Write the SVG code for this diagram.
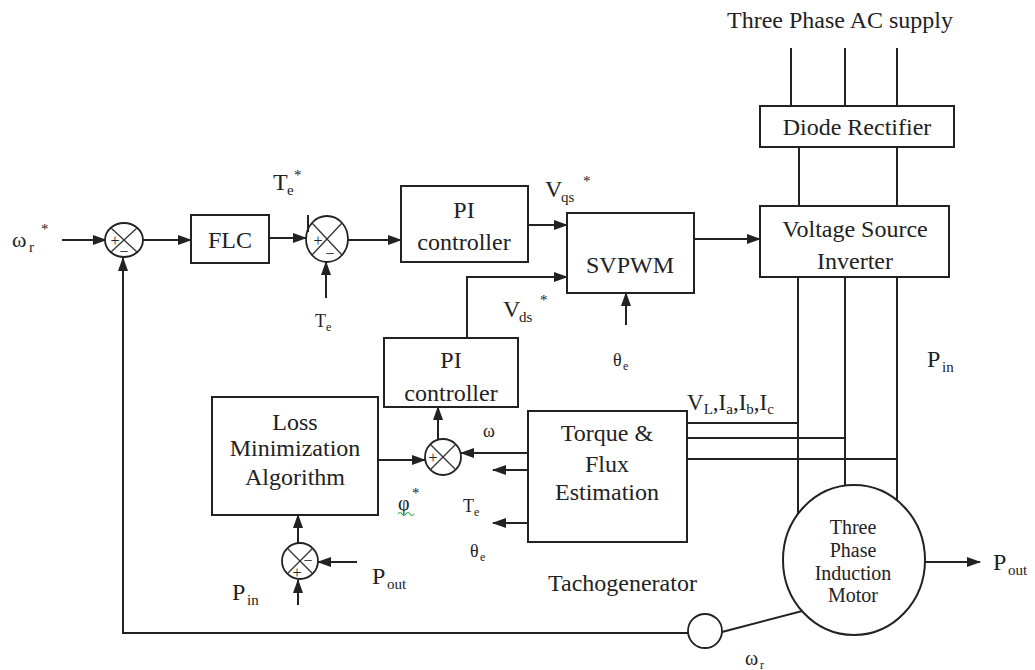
<svg xmlns="http://www.w3.org/2000/svg" width="1035" height="670" viewBox="0 0 1035 670">
<style>
.ln{stroke:#222;stroke-width:2;fill:none}
.ar{stroke:#222;stroke-width:2;fill:none;marker-end:url(#ah)}
.box{fill:#fff;stroke:#222;stroke-width:2}
.sj{fill:#fff;stroke:#222;stroke-width:1.8}
.x{stroke:#333;stroke-width:1.3}
text{font-family:"Liberation Serif","Times New Roman",serif;fill:#222}
.b{font-size:24px;text-anchor:middle}
.m{font-size:20px;text-anchor:middle}
.l{font-size:24px}
.s{font-size:15px}
.sm{font-size:18px}
.ss{font-size:12px}
.sg{font-size:16px;text-anchor:middle}
</style>
<defs>
<marker id="ah" markerUnits="userSpaceOnUse" markerWidth="14" markerHeight="10" refX="13" refY="5" orient="auto">
<path d="M0,0 L14,5 L0,10 Z" fill="#222"/>
</marker>
</defs>
<rect width="1035" height="670" fill="#fff"/>

<g id="connectors">
<line class="ar" x1="62" y1="240" x2="106" y2="240"/>
<line class="ar" x1="143" y1="240" x2="191" y2="240"/>
<line class="ar" x1="269" y1="238" x2="306" y2="238"/>
<line class="ar" x1="326" y1="298" x2="326" y2="262"/>
<line class="ar" x1="348" y1="240" x2="401" y2="240"/>
<line class="ar" x1="528" y1="225" x2="567" y2="225"/>
<polyline class="ar" points="467,338 467,277 567,277"/>
<line class="ar" x1="626" y1="325" x2="626" y2="293"/>
<line class="ar" x1="694" y1="239" x2="760" y2="239"/>
<line class="ln" x1="791" y1="48" x2="791" y2="106"/>
<line class="ln" x1="845" y1="48" x2="845" y2="106"/>
<line class="ln" x1="897" y1="48" x2="897" y2="106"/>
<line class="ln" x1="799" y1="147" x2="799" y2="206"/>
<line class="ln" x1="897" y1="147" x2="897" y2="206"/>
<line class="ln" x1="798" y1="277" x2="798" y2="514"/>
<line class="ln" x1="845" y1="277" x2="845" y2="485"/>
<line class="ln" x1="897" y1="277" x2="897" y2="500"/>
<line class="ln" x1="687" y1="423" x2="798" y2="423"/>
<line class="ln" x1="687" y1="438" x2="845" y2="438"/>
<line class="ln" x1="687" y1="459" x2="897" y2="459"/>
<line class="ar" x1="528" y1="453" x2="461" y2="453"/>
<line class="ar" x1="528" y1="470" x2="493" y2="470"/>
<line class="ar" x1="528" y1="523" x2="493" y2="523"/>
<line class="ar" x1="438" y1="440" x2="438" y2="407"/>
<line class="ar" x1="378" y1="460" x2="425" y2="460"/>
<line class="ar" x1="298" y1="543" x2="298" y2="515"/>
<line class="ar" x1="298" y1="605" x2="298" y2="580"/>
<line class="ar" x1="357" y1="562" x2="318" y2="562"/>
<line class="ar" x1="925" y1="562" x2="980" y2="562"/>
<line class="ln" x1="722" y1="632" x2="833" y2="603"/>
<polyline class="ar" points="688,633 123,633 123,258"/>
</g>

<g id="sum1">
<ellipse class="sj" cx="124" cy="240" rx="19" ry="17"/>
<line class="x" x1="111" y1="228" x2="137" y2="252"/>
<line class="x" x1="137" y1="228" x2="111" y2="252"/>
<text class="sg" x="115" y="246">+</text>
<text class="sg" x="124" y="257">−</text>
</g>

<g id="sum2">
<ellipse class="sj" cx="327" cy="239" rx="21" ry="23"/>
<line class="x" x1="312" y1="223" x2="342" y2="255"/>
<line class="x" x1="342" y1="223" x2="312" y2="255"/>
<line class="ln" x1="308" y1="215" x2="308" y2="232"/>
<text class="sg" x="318" y="246">+</text>
<text class="sg" x="330" y="259">−</text>
</g>

<g id="sum3">
<circle class="sj" cx="443" cy="457" r="18"/>
<line class="x" x1="430" y1="444" x2="456" y2="470"/>
<line class="x" x1="456" y1="444" x2="430" y2="470"/>
<text class="sg" x="433" y="463">+</text>
</g>

<g id="sum4">
<circle class="sj" cx="300" cy="561" r="18"/>
<line class="x" x1="287" y1="548" x2="313" y2="574"/>
<line class="x" x1="313" y1="548" x2="287" y2="574"/>
<text class="sg" x="308" y="566">−</text>
<text class="sg" x="297" y="578">+</text>
</g>

<g id="flc">
<rect class="box" x="191" y="215" width="78" height="48"/>
<text class="b" x="230" y="248">FLC</text>
</g>

<g id="pi1">
<rect class="box" x="401" y="186" width="127" height="76"/>
<text class="b" x="464" y="218">PI</text>
<text class="b" x="464" y="250">controller</text>
</g>

<g id="svpwm">
<rect class="box" x="567" y="213" width="127" height="80"/>
<text class="b" x="630" y="273">SVPWM</text>
</g>

<g id="rectifier">
<rect class="box" x="760" y="106" width="194" height="41"/>
<text class="b" x="857" y="135">Diode Rectifier</text>
</g>

<g id="vsi">
<rect class="box" x="760" y="206" width="189" height="71"/>
<text class="b" x="855" y="237">Voltage Source</text>
<text class="b" x="855" y="269">Inverter</text>
</g>

<g id="pi2">
<rect class="box" x="384" y="338" width="134" height="69"/>
<text class="b" x="451" y="368">PI</text>
<text class="b" x="451" y="401">controller</text>
</g>

<g id="lma">
<rect class="box" x="212" y="397" width="166" height="118"/>
<text class="b" x="295" y="430">Loss</text>
<text class="b" x="295" y="456">Minimization</text>
<text class="b" x="295" y="485">Algorithm</text>
</g>

<g id="tfe">
<rect class="box" x="528" y="411" width="159" height="131"/>
<text class="b" x="607" y="441">Torque &amp;</text>
<text class="b" x="607" y="472">Flux</text>
<text class="b" x="607" y="500">Estimation</text>
</g>

<g id="motor">
<ellipse class="box" cx="854" cy="560" rx="71" ry="75"/>
<text class="m" x="853" y="534">Three</text>
<text class="m" x="853" y="557">Phase</text>
<text class="m" x="853" y="580">Induction</text>
<text class="m" x="853" y="602">Motor</text>
</g>

<g id="tacho">
<circle class="sj" cx="705" cy="631" r="17"/>
</g>

<g id="labels">
<text class="l" x="727" y="28">Three Phase AC supply</text>
<text class="l" x="548" y="591">Tachogenerator</text>
<text x="12" y="247" font-size="22">ω</text><text class="s" x="29" y="252">r</text><text class="s" x="41" y="234">*</text>
<text class="l" x="273" y="190">T</text><text class="s" x="287" y="195">e</text><text class="s" x="294" y="180">*</text>
<text class="l" x="545" y="197">V</text><text class="s" x="561" y="202">qs</text><text class="s" x="583" y="186">*</text>
<text class="l" x="503" y="317">V</text><text class="s" x="519" y="322">ds</text><text class="s" x="540" y="305">*</text>
<text class="sm" x="315" y="327">T</text><text class="ss" x="326" y="331">e</text>
<text class="sm" x="613" y="366">θ</text><text class="ss" x="623" y="370">e</text>
<text class="sm" x="483" y="437">ω</text>
<text class="sm" x="463" y="512">T</text><text class="ss" x="474" y="516">e</text>
<text class="sm" x="470" y="557">θ</text><text class="ss" x="480" y="561">e</text>
<text x="398" y="510" font-size="20">φ</text><text class="s" x="412" y="498">*</text>
<path d="M398,514 q2,-3 4,0 t4,0 t4,0 t4,0" stroke="#3a3" stroke-width="1.2" fill="none"/>
<text class="l" x="232" y="600">P</text><text class="s" x="247" y="605">in</text>
<text class="l" x="372" y="584">P</text><text class="s" x="387" y="589">out</text>
<text class="l" x="927" y="367">P</text><text class="s" x="942" y="372">in</text>
<text class="l" x="993" y="570">P</text><text class="s" x="1008" y="575">out</text>
<text x="745" y="665" font-size="20">ω</text><text class="ss" x="760" y="669">r</text>
<text x="687" y="410" font-size="23">V<tspan class="s" dy="4">L</tspan><tspan dy="-4">,I</tspan><tspan class="s" dy="4">a</tspan><tspan dy="-4">,I</tspan><tspan class="s" dy="4">b</tspan><tspan dy="-4">,I</tspan><tspan class="s" dy="4">c</tspan></text>
</g>
</svg>
